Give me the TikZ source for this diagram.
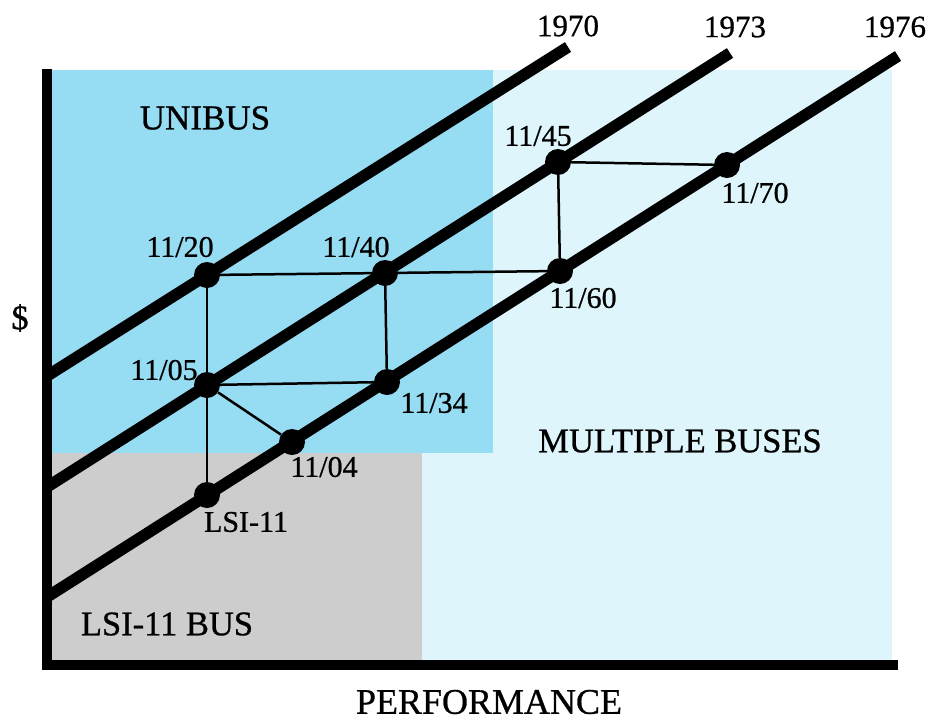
\documentclass[tikz,border=0pt]{standalone}
\usepackage{fontspec}
\setmainfont{Liberation Serif}[RawFeature={embolden=0.8}]
\definecolor{unibusblue}{RGB}{150,220,242}
\definecolor{multipale}{RGB}{221,245,251}
\definecolor{lsigray}{RGB}{205,205,205}
\begin{document}
\begin{tikzpicture}[x=1pt,y=-1pt,
	dot/.style={circle,fill=black,inner sep=0pt,minimum size=26pt},
	yearline/.style={line width=11.5pt},
	link/.style={line width=2.5pt},
	lbl/.style={inner sep=0pt,font=\fontsize{30}{32}\selectfont},
	yearlbl/.style={inner sep=0pt,font=\fontsize{31}{33}\selectfont},
	buslbl/.style={inner sep=0pt,font=\fontsize{34.5}{36}\selectfont}]
	\useasboundingbox (0,0) rectangle (930,721);
	% bus regions
	\fill[multipale] (47,70) rectangle (892,665);
	\fill[unibusblue] (47,70) rectangle (493,453);
	\fill[lsigray] (47,453) rectangle (422,665);
	% technology lines
	\coordinate (l70a) at (47,376);
	\coordinate (l70b) at (568,47);
	\coordinate (l73a) at (47,487);
	\coordinate (l73b) at (730,53);
	\coordinate (l76a) at (47,597);
	\coordinate (l76b) at (898,56);
	\draw[yearline] (l70a) -- (l70b);
	\draw[yearline] (l73a) -- (l73b);
	\draw[yearline] (l76a) -- (l76b);
	\node[yearlbl] (t70) at (568,26) {1970};
	\node[yearlbl] (t73) at (735,27) {1973};
	\node[yearlbl] (t76) at (895,27) {1976};
	% axes
	\draw[line width=10pt] (47,69) -- (47,665) -- (898,665);
	% machines
	\node[dot] (n1120) at (207,275) {};
	\node[dot] (n1140) at (385,273) {};
	\node[dot] (n1160) at (560,271) {};
	\node[dot] (n1105) at (207,385) {};
	\node[dot] (n1134) at (387,382) {};
	\node[dot] (n1104) at (292,442) {};
	\node[dot] (nlsi) at (207,495) {};
	\node[dot] (n1145) at (558,162) {};
	\node[dot] (n1170) at (727,165) {};
	\draw[link] (n1120) -- (n1140) -- (n1160);
	\draw[link] (n1120) -- (n1105) -- (nlsi);
	\draw[link] (n1105) -- (n1134) -- (n1140);
	\draw[link] (n1105) -- (n1104);
	\draw[link] (n1145) -- (n1170);
	\draw[link] (n1145) -- (n1160);
	\node[lbl] (t1120) at (180,247) {11/20};
	\node[lbl] (t1140) at (356,247) {11/40};
	\node[lbl] (t1160) at (583,298) {11/60};
	\node[lbl] (t1105) at (164,370) {11/05};
	\node[lbl] (t1134) at (434,403) {11/34};
	\node[lbl] (t1104) at (324,467) {11/04};
	\node[lbl] (tlsi) at (246,522) {LSI-11};
	\node[lbl] (t1145) at (538,136) {11/45};
	\node[lbl] (t1170) at (755,193) {11/70};
	% region and axis names
	\node[buslbl,font=\fontsize{35}{37}\selectfont] (unibus) at (205,118) {UNIBUS};
	\node[buslbl] (multi) at (680,441) {MULTIPLE BUSES};
	\node[buslbl] (lsibus) at (167,624) {LSI-11 BUS};
	\node[buslbl,font=\fontsize{36}{38}\selectfont] (perf) at (489,702) {PERFORMANCE};
	\node[buslbl] (cost) at (20,318) {\$};
\end{tikzpicture}
\end{document}
